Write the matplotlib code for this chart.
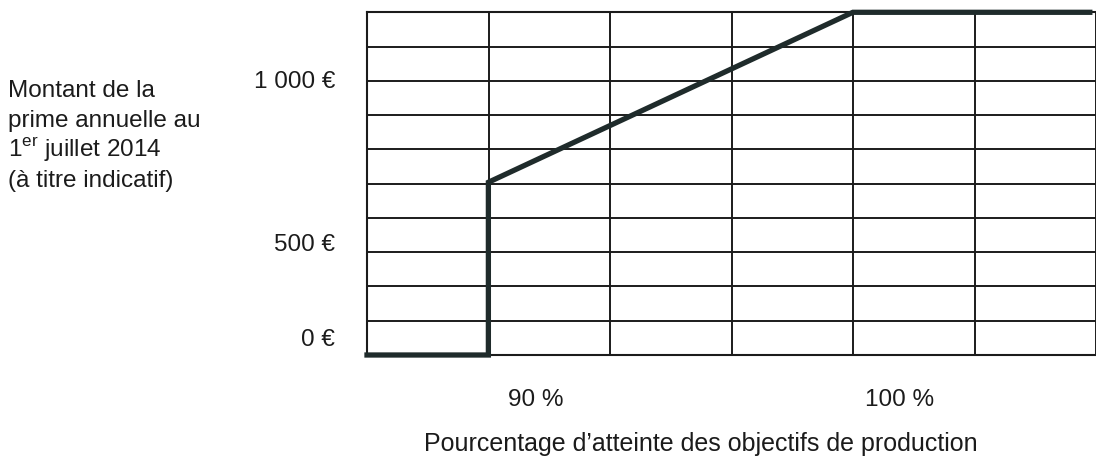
import matplotlib.pyplot as plt
from matplotlib.transforms import ScaledTranslation
import numpy as np

plt.rcParams['font.family'] = ['Liberation Sans', 'DejaVu Sans']
plt.rcParams['mathtext.fontset'] = 'custom'
plt.rcParams['mathtext.rm'] = 'Liberation Sans'

# prime en fonction du pourcentage d'atteinte des objectifs
pct = [86.67, 90, 90, 100, 106.5]
prime = [0, 0, 630, 1250, 1250]

x_ticks = [90, 100]
x_labels = ['90 %', '100 %']
y_ticks = [1000, 500, 0]
y_labels = ['1 000 €', '500 €', '0 €']
y_label_dy = [-1, -27, 15]  # decalage des libelles (px), comme sur le document

ylabel_lines = ['Montant de la', 'prime annuelle au',
                '1$^{\\rm er}$ juillet 2014', '(à titre indicatif)']
xlabel = 'Pourcentage d’atteinte des objectifs de production'

ink = '#1b1b1b'
fs = 17.5
fig = plt.figure(figsize=(10.96, 4.58), dpi=100)
ax = fig.add_axes([367/1096, 103/458, 1 - 367/1096, (355 - 12.3)/458])

ax.set_xlim(86.67, 86.67 + (1096 - 367)/37.5)
ax.set_ylim(0, 1250)

# grille
ax.set_xticks(86.67 + np.arange(7)*10/3)
ax.set_yticks(np.arange(0, 1251, 125))
ax.grid(True, color=ink, linewidth=1.4)
ax.tick_params(length=0, labelbottom=False, labelleft=False)
for s in ['left', 'top', 'bottom']:
    ax.spines[s].set_color(ink)
    ax.spines[s].set_linewidth(1.5)
ax.spines['right'].set_visible(False)

ax.plot(pct, prime, color='#1f2b2b', linewidth=3.8, solid_joinstyle='miter',
        clip_on=False, zorder=5)

# libelles des axes
for v, lab in zip(x_ticks, x_labels):
    tr = ax.get_xaxis_transform() + ScaledTranslation(47/100, -45/100, fig.dpi_scale_trans)
    ax.text(v, 0, lab, transform=tr, ha='center', va='center', fontsize=fs, color=ink)
for v, lab, dy in zip(y_ticks, y_labels, y_label_dy):
    tr = ax.get_yaxis_transform() + ScaledTranslation(-32/100, dy/100, fig.dpi_scale_trans)
    ax.text(0, v, lab, transform=tr, ha='right', va='center', fontsize=fs, color=ink)

for i, line in enumerate(ylabel_lines):
    fig.text(8/1096, 1 - (97 + 30*i)/458, line, ha='left', va='baseline',
             fontsize=fs, color=ink)

fig.text(701/1096, 1 - 444/458, xlabel, ha='center', va='center', fontsize=18, color=ink)

fig.savefig('out.png', dpi=100)
